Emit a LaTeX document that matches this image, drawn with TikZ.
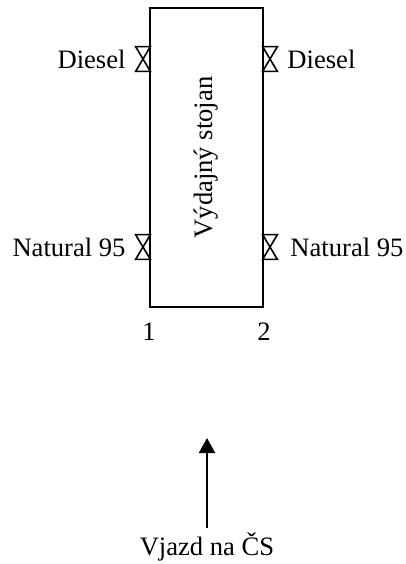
\documentclass[tikz,border=0pt]{standalone}
\usepackage{fontspec}
\setmainfont{Liberation Serif}
\usetikzlibrary{arrows.meta,positioning}

\begin{document}
\begin{tikzpicture}[x=0.5pt,y=-0.5pt]
\tikzset{
    stand/.style={draw,line width=1pt,minimum width=56.5pt,minimum height=149.5pt,inner sep=0pt},
    valve/.style={minimum width=7pt,minimum height=12pt,inner sep=0pt},
    txt/.style={font=\fontsize{13.3}{16}\selectfont},
    entry/.style={-{Triangle[width=8pt,length=7.5pt]},line width=1pt}
}
\useasboundingbox (0,0) rectangle (406,564);
% dispenser
\node[stand] (stojan) at (206.5,157.5) {};
\node[txt,rotate=90] (name) at (stojan) {Výdajný stojan};
% valves
\node[valve] (dl) at (143,59) {};
\node[valve] (dr) at (270,59) {};
\node[valve] (nl) at (143,247) {};
\node[valve] (nr) at (270,247) {};
\foreach \v in {dl,dr,nl,nr}
  \draw[line width=0.8pt] (\v.north west) -- (\v.north east) -- (\v.south west) -- (\v.south east) -- cycle;
% fuel labels
\node[txt,left=1.5pt of dl] (dieselL) {Diesel};
\node[txt,right=1.5pt of dr] (dieselR) {Diesel};
\node[txt,left=1.5pt of nl] (naturalL) {Natural 95};
\node[txt,right=3pt of nr] (naturalR) {Natural 95};
% sides
\node[txt,below=4pt of stojan.south west] (side1) {1};
\node[txt,below=4pt of stojan.south east] (side2) {2};
% entry
\node[txt,inner sep=2pt] (vjazd) at (207,547) {Vjazd na ČS};
\coordinate (tip) at (207,438);
\draw[entry] (vjazd.north) -- (tip);
\end{tikzpicture}
\end{document}
